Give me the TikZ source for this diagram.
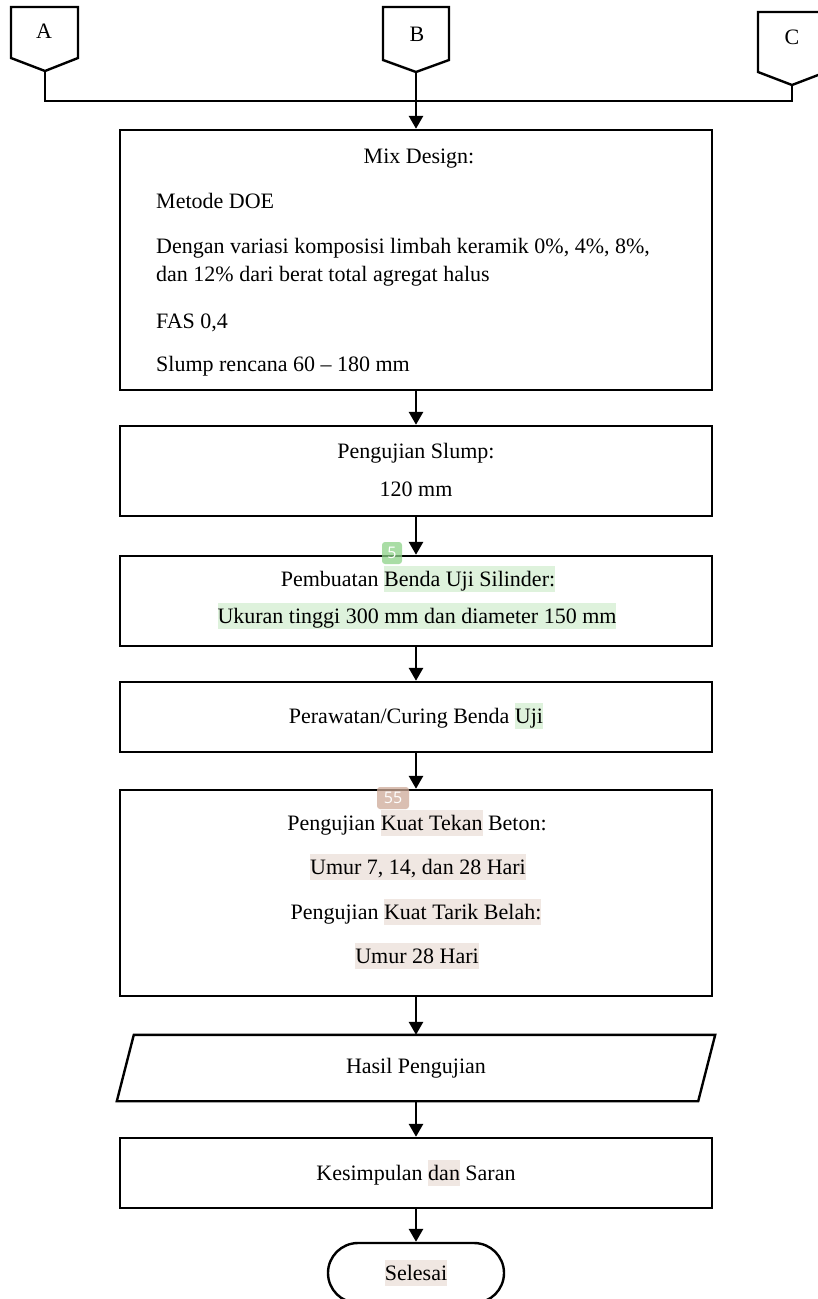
\documentclass[tikz,border=0pt]{standalone}
\usepackage{fontspec}
\setmainfont{Liberation Serif}
\newfontfamily\badgefont{Open Sans}
\usetikzlibrary{arrows.meta}
\definecolor{hlgreen}{RGB}{222,242,220}
\definecolor{hlbrown}{RGB}{240,231,226}
\definecolor{badgegreen}{RGB}{140,210,135}
\definecolor{badgebrown}{RGB}{205,170,152}
\newcommand{\hlg}[1]{{\setlength{\fboxsep}{0pt}\colorbox{hlgreen}{\rule[-6pt]{0pt}{26pt}#1}}}
\newcommand{\hlb}[1]{{\setlength{\fboxsep}{0pt}\colorbox{hlbrown}{\rule[-6pt]{0pt}{26pt}#1}}}

\begin{document}
\begin{tikzpicture}[x=1pt,y=-1pt,
    font=\fontsize{22}{26}\selectfont,
    box/.style={draw, line width=2.4pt, minimum width=592pt, inner sep=0pt},
    arr/.style={line width=2.8pt, -{Triangle[width=14pt,length=13pt]}},
    link/.style={line width=2.8pt},
    txt/.style={inner sep=0pt, text height=16pt, text depth=4pt},
    badge/.style={rounded corners=3pt, fill opacity=0.75, text opacity=1, text=white,
        font=\badgefont\fontsize{16}{16}\selectfont, minimum height=22pt, inner sep=0pt}]
    \useasboundingbox (0,0) rectangle (817,1299);

    % off-page connectors
    \draw[line width=2.4pt] (11,7) -- (78,7) -- (78,58) -- (45,71) -- (11,58) -- cycle;
    \draw[line width=2.4pt] (383,7) -- (449,7) -- (449,60) -- (416,72) -- (383,60) -- cycle;
    \draw[line width=2.4pt] (758,12) -- (826,12) -- (826,72) -- (792,85) -- (758,72) -- cycle;
    \node[txt] (A) at (44,32) {A};
    \node[txt] (B) at (417,35) {B};
    \node[txt] (C) at (792,38) {C};
    \coordinate (tipA) at (45,71);
    \coordinate (tipB) at (416,72);
    \coordinate (tipC) at (792,85);
    \coordinate (joinA) at (45,101);
    \coordinate (joinC) at (792,101);

    % boxes
    \node[box, minimum height=260pt] (mix) at (416,260) {};
    \node[box, minimum height=90pt] (slump) at (416,471) {};
    \node[box, minimum height=90pt] (cetak) at (416,601) {};
    \node[box, minimum height=70pt] (rawat) at (416,717) {};
    \node[box, minimum height=206pt] (uji) at (416,893) {};
    \node[inner sep=0pt, minimum width=598pt, minimum height=66pt] (hasil) at (416,1068) {Hasil Pengujian};
    \draw[line width=2.4pt] ([xshift=17pt]hasil.north west) -- (hasil.north east)
        -- ([xshift=-17pt]hasil.south east) -- (hasil.south west) -- cycle;
    \node[box, minimum height=70pt] (kesimpulan) at (416,1173) {Kesimpulan \hlb{dan} Saran};
    \node[draw, line width=2.4pt, rounded corners=30pt, minimum width=176pt, minimum height=60pt] (selesai) at (416,1273) {\hlb{Selesai}};

    % texts
    \node[txt] (mixT) at (419,157) {Mix Design:};
    \node[txt, anchor=west] (doe) at (156,202) {Metode DOE};
    \node[txt, anchor=west] (var1) at (156,247) {Dengan variasi komposisi limbah keramik 0\%, 4\%, 8\%,};
    \node[txt, anchor=west] (var2) at (156,275) {dan 12\% dari berat total agregat halus};
    \node[txt, anchor=west] (fas) at (156,322) {FAS 0,4};
    \node[txt, anchor=west] (rencana) at (156,365) {Slump rencana 60 -- 180 mm};
    \node[txt] (slumpT) at (416,452) {Pengujian Slump:};
    \node[txt] (slumpV) at (416,490) {120 mm};
    \node[txt] (cetakT) at (418,580) {Pembuatan \hlg{Benda Uji Silinder:}};
    \node[txt] (cetakV) at (417,617) {\hlg{Ukuran tinggi 300 mm dan diameter 150 mm}};
    \node[txt] (rawatT) at (416,717) {Perawatan/Curing Benda \hlg{Uji}};
    \node[txt] (tekanT) at (417,824) {Pengujian \hlb{Kuat Tekan} Beton:};
    \node[txt] (tekanV) at (418,868) {\hlb{Umur 7, 14, dan 28 Hari}};
    \node[txt] (tarikT) at (416,913) {Pengujian \hlb{Kuat Tarik Belah:}};
    \node[txt] (tarikV) at (417,957) {\hlb{Umur 28 Hari}};

    % connectors
    \draw[link] (tipA) -- (joinA) -- (joinC) -- (tipC);
    \draw[arr] (tipB) -- (mix.north);
    \draw[arr] (mix) -- (slump);
    \draw[arr] (slump) -- (cetak);
    \draw[arr] (cetak) -- (rawat);
    \draw[arr] (rawat) -- (uji);
    \draw[arr] (uji.south) -- (hasil.north);
    \draw[arr] (hasil.south) -- (kesimpulan);
    \draw[arr] (kesimpulan) -- (selesai);

    % comment markers
    \node[badge, fill=badgegreen, minimum width=20pt] (mark5) at (392,553) {5};
    \node[badge, fill=badgebrown, minimum width=32pt] (mark55) at (393,798) {55};
\end{tikzpicture}
\end{document}
